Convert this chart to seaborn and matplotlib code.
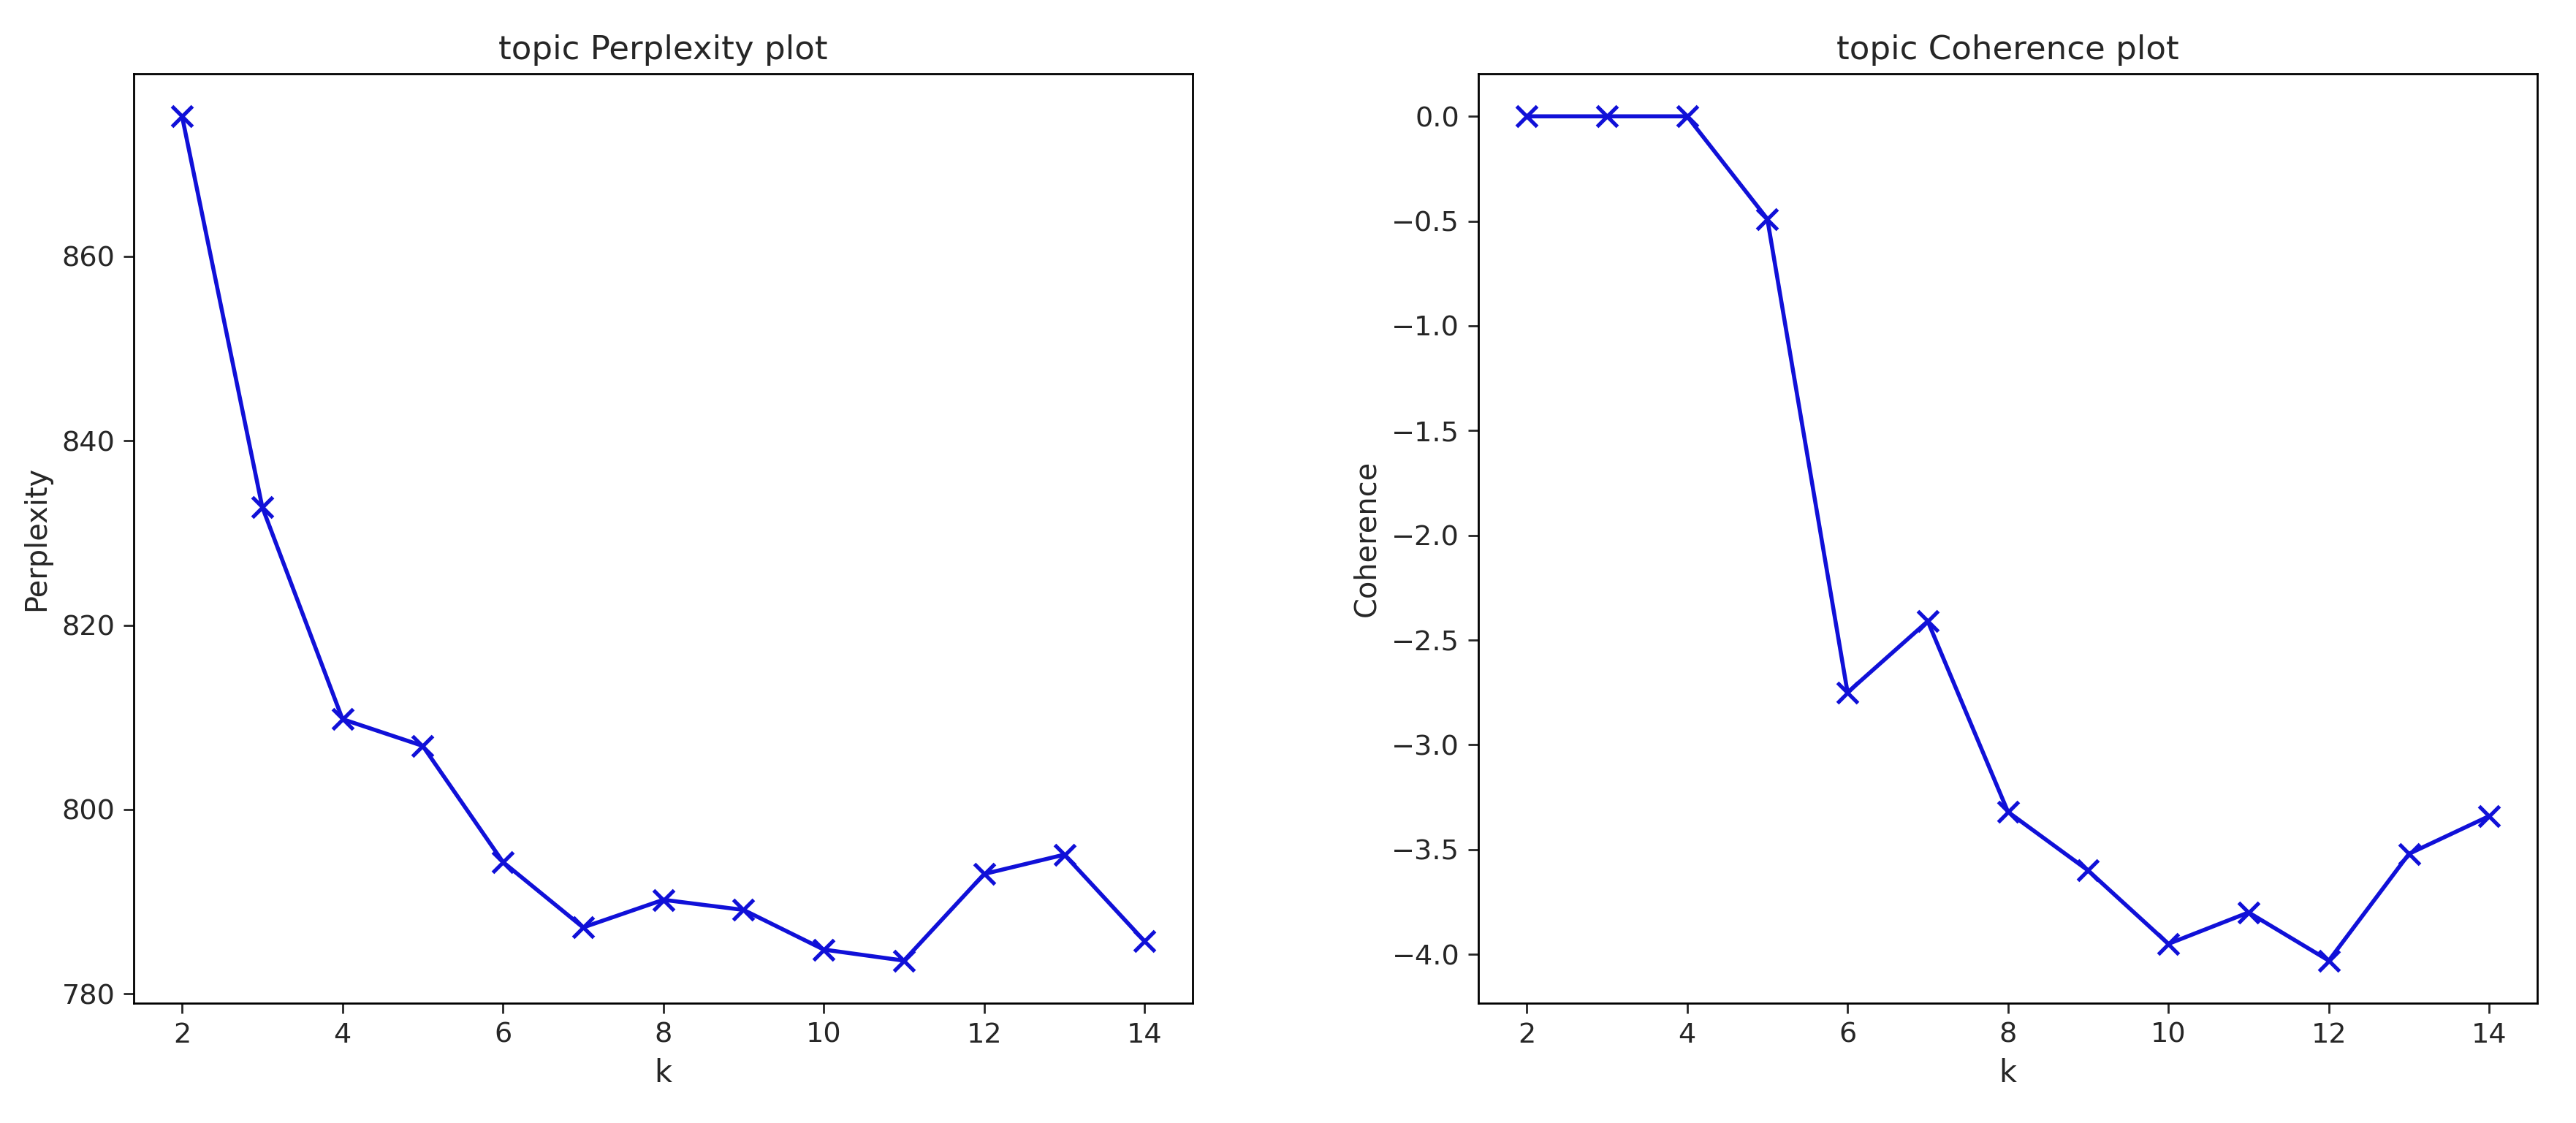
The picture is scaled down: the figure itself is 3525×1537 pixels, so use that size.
import numpy as np
import pandas as pd
import matplotlib
matplotlib.use('Agg')
import matplotlib.pyplot as plt
import seaborn as sns

sns.set_style('white')
plt.rcParams['font.family'] = ['DejaVu Sans']

# Data
k = [2, 3, 4, 5, 6, 7, 8, 9, 10, 11, 12, 13, 14]
perplexity = [875.2, 832.8, 809.8, 806.9, 794.3, 787.2, 790.2, 789.1, 784.8, 783.6, 793.0, 795.1, 785.7]
coherence = [0.0, 0.0, 0.0, -0.49, -2.75, -2.41, -3.32, -3.60, -3.95, -3.80, -4.03, -3.52, -3.34]

df = pd.DataFrame({'k': k, 'Perplexity': perplexity, 'Coherence': coherence})

fig, axes = plt.subplots(1, 2, figsize=(14.1, 6.148), dpi=250)
fig.subplots_adjust(left=0.052, right=0.985, top=0.934, bottom=0.107, wspace=0.27)

for ax, col in zip(axes, ['Perplexity', 'Coherence']):
    sns.lineplot(data=df, x='k', y=col, ax=ax, color='#1010d8', marker='x',
                 markersize=8, markeredgewidth=1.5, markeredgecolor='#1010d8', linewidth=1.6)
    ax.set_title(f'topic {col} plot', fontsize=13)
    ax.set_xlabel('k', fontsize=12)
    ax.set_ylabel(col, fontsize=11.5)
    ax.set_xticks([2, 4, 6, 8, 10, 12, 14])
    ax.tick_params(axis='both', labelsize=11, length=4, left=True, bottom=True)
    for s in ax.spines.values():
        s.set_color('black')
        s.set_linewidth(0.8)

axes[0].set_yticks([780, 800, 820, 840, 860])
axes[1].set_yticks(np.arange(-4.0, 0.01, 0.5))

fig.savefig('out.png')
